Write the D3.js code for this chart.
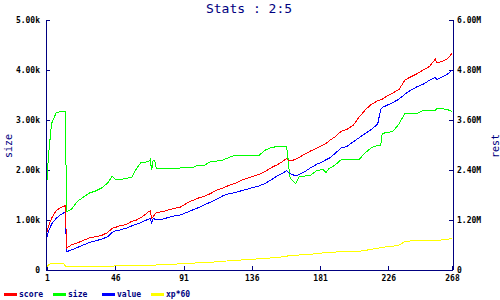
<!DOCTYPE html>
<html>
<head>
<meta charset="utf-8">
<script src="https://cdn.jsdelivr.net/npm/d3@7"></script>
<style>
  body { margin: 0; background: #fff; }
  text { font-family: "DejaVu Sans Mono", monospace; }
</style>
</head>
<body>
<div id="chart"></div>
<script>
// data
let days  = [1, 2, 4, 7, 10, 12, 13, 14, 17, 21, 25, 29, 33, 37, 41, 44, 46, 49, 53, 57, 60, 63, 66, 68, 69, 70, 71, 72, 73, 77, 81, 85, 89, 93, 97, 101, 105, 109, 113, 117, 121, 125, 129, 133, 137, 141, 145, 149, 153, 157, 159, 160, 161, 162, 165, 167, 171, 175, 179, 183, 185, 187, 191, 195, 199, 203, 207, 211, 215, 219, 221, 222, 225, 229, 233, 237, 241, 245, 249, 253, 257, 258, 261, 265, 268];
// size, in thousands (left axis)
let size  = [1.80, 2.30, 2.93, 3.14, 3.17, 3.18, 3.18, 1.17, 1.21, 1.37, 1.46, 1.54, 1.58, 1.64, 1.74, 1.88, 1.82, 1.81, 1.83, 1.86, 2.03, 2.15, 2.16, 2.17, 2.21, 2.00, 2.20, 2.20, 2.03, 2.04, 2.03, 2.03, 2.04, 2.05, 2.05, 2.10, 2.10, 2.17, 2.18, 2.20, 2.25, 2.30, 2.30, 2.30, 2.30, 2.30, 2.40, 2.45, 2.47, 2.47, 2.47, 2.20, 1.87, 1.82, 1.73, 1.86, 1.88, 1.90, 1.99, 2.01, 1.95, 2.03, 2.10, 2.21, 2.22, 2.22, 2.22, 2.35, 2.45, 2.49, 2.49, 2.73, 2.75, 2.77, 2.92, 3.13, 3.13, 3.13, 3.19, 3.19, 3.19, 3.23, 3.23, 3.21, 3.17];
// rest, in millions (right axis)
let score = [0.90, 1.05, 1.24, 1.42, 1.50, 1.53, 1.54, 0.53, 0.60, 0.65, 0.71, 0.77, 0.80, 0.83, 0.90, 1.00, 1.02, 1.06, 1.09, 1.17, 1.20, 1.26, 1.34, 1.40, 1.42, 1.25, 1.28, 1.33, 1.38, 1.40, 1.44, 1.48, 1.51, 1.60, 1.67, 1.73, 1.77, 1.84, 1.92, 1.97, 2.03, 2.08, 2.15, 2.20, 2.25, 2.30, 2.37, 2.46, 2.53, 2.62, 2.68, 2.63, 2.62, 2.62, 2.66, 2.70, 2.78, 2.86, 2.93, 3.00, 3.04, 3.10, 3.20, 3.33, 3.38, 3.48, 3.68, 3.85, 3.98, 4.06, 4.09, 4.10, 4.17, 4.25, 4.33, 4.56, 4.64, 4.71, 4.80, 4.88, 5.06, 4.97, 5.00, 5.07, 5.20];
let value = [0.78, 0.93, 1.10, 1.24, 1.33, 1.37, 1.38, 0.44, 0.48, 0.54, 0.60, 0.66, 0.70, 0.74, 0.80, 0.90, 0.94, 0.96, 1.00, 1.06, 1.10, 1.14, 1.19, 1.22, 1.24, 1.14, 1.24, 1.22, 1.20, 1.22, 1.26, 1.30, 1.32, 1.38, 1.44, 1.50, 1.57, 1.63, 1.70, 1.78, 1.83, 1.86, 1.90, 1.94, 1.98, 2.02, 2.08, 2.17, 2.26, 2.34, 2.38, 2.35, 2.32, 2.30, 2.26, 2.29, 2.36, 2.46, 2.54, 2.60, 2.65, 2.68, 2.80, 2.93, 2.97, 3.08, 3.18, 3.28, 3.38, 3.50, 3.86, 3.90, 3.95, 4.02, 4.10, 4.22, 4.32, 4.40, 4.46, 4.55, 4.62, 4.57, 4.62, 4.70, 4.80];
let xp60  = [0.08, 0.12, 0.16, 0.16, 0.16, 0.16, 0.10, 0.08, 0.08, 0.08, 0.08, 0.08, 0.08, 0.08, 0.08, 0.09, 0.10, 0.10, 0.10, 0.10, 0.11, 0.12, 0.12, 0.12, 0.12, 0.12, 0.12, 0.12, 0.12, 0.13, 0.13, 0.14, 0.15, 0.15, 0.16, 0.18, 0.18, 0.18, 0.20, 0.21, 0.22, 0.23, 0.24, 0.26, 0.26, 0.27, 0.28, 0.29, 0.30, 0.32, 0.33, 0.34, 0.34, 0.34, 0.35, 0.36, 0.37, 0.38, 0.39, 0.41, 0.41, 0.42, 0.43, 0.44, 0.44, 0.44, 0.45, 0.47, 0.50, 0.52, 0.54, 0.54, 0.56, 0.57, 0.60, 0.68, 0.70, 0.70, 0.70, 0.70, 0.72, 0.72, 0.72, 0.74, 0.75];

let xTicks = [1, 46, 91, 136, 181, 226, 268];
let leftTicks = [0, 1, 2, 3, 4, 5];
let rightTicks = [0, 1.2, 2.4, 3.6, 4.8, 6];

let axisColor = "#000080";

let svg = d3.select("#chart").append("svg")
    .attr("width", 500)
    .attr("height", 300);

let x = d3.scaleLinear().domain([1, 268]).range([47, 452]);
let yLeft = d3.scaleLinear().domain([0, 5]).range([270, 20]);
let yRight = d3.scaleLinear().domain([0, 6]).range([270, 20]);

// title
svg.append("text")
    .attr("x", 249).attr("y", 13)
    .attr("text-anchor", "middle")
    .attr("font-size", "13px")
    .attr("fill", axisColor)
    .text("Stats : 2:5");

// axes
function styleAxis(g) {
    g.selectAll(".domain").remove();
    g.selectAll("line").attr("stroke", axisColor).attr("shape-rendering", "crispEdges");
    g.selectAll("text").attr("fill", "#000").attr("font-size", "8px")
        .attr("font-weight", "bold")
        .style("font-family", "'DejaVu Sans Mono', monospace");
}

svg.append("g")
    .attr("transform", "translate(46,0)")
    .call(d3.axisRight(yLeft).tickValues(leftTicks).tickSize(4)
        .tickFormat(d => d === 0 ? "0" : d.toFixed(2) + "k"))
    .call(styleAxis)
    .call(g => g.selectAll("text").attr("x", -6).attr("text-anchor", "end"));

svg.append("g")
    .attr("transform", "translate(453,0)")
    .call(d3.axisLeft(yRight).tickValues(rightTicks).tickSize(4)
        .tickFormat(d => d === 0 ? "0" : d.toFixed(2) + "M"))
    .call(styleAxis)
    .call(g => g.selectAll("text").attr("x", 4).attr("text-anchor", "start"));

svg.append("g")
    .attr("transform", "translate(0,270)")
    .call(d3.axisTop(x).tickValues(xTicks).tickSize(4))
    .call(styleAxis)
    .call(g => g.selectAll("text").attr("y", 11).attr("dy", 0));

// axis lines
let frame = [[46, 20, 46, 270], [453, 20, 453, 270], [46, 270, 453, 270]];
svg.selectAll("line.frame").data(frame).enter().append("line")
    .attr("class", "frame")
    .attr("x1", d => d[0]).attr("y1", d => d[1])
    .attr("x2", d => d[2]).attr("y2", d => d[3])
    .attr("stroke", axisColor)
    .attr("shape-rendering", "crispEdges");

// axis titles
svg.append("text")
    .attr("transform", "translate(12,146) rotate(-90)")
    .attr("text-anchor", "middle")
    .attr("font-size", "10px")
    .attr("fill", axisColor)
    .text("size");

svg.append("text")
    .attr("transform", "translate(499,146) rotate(-90)")
    .attr("text-anchor", "middle")
    .attr("font-size", "10px")
    .attr("fill", axisColor)
    .text("rest");

// series
let series = [
    { name: "xp*60", values: xp60, scale: yRight, color: "#ffff00" },
    { name: "size", values: size, scale: yLeft, color: "#00ff00" },
    { name: "value", values: value, scale: yRight, color: "#0000ff" },
    { name: "score", values: score, scale: yRight, color: "#ff0000" }
];

series.forEach(function (s) {
    let line = d3.line()
        .x((d, i) => x(days[i]))
        .y(d => s.scale(d));
    svg.append("path")
        .datum(s.values)
        .attr("d", line)
        .attr("fill", "none")
        .attr("stroke", s.color)
        .attr("stroke-width", 1)
        .attr("shape-rendering", "crispEdges");
});

// legend
let legend = [
    { name: "score", color: "#ff0000", x: 4 },
    { name: "size", color: "#00ff00", x: 53 },
    { name: "value", color: "#0000ff", x: 102 },
    { name: "xp*60", color: "#ffff00", x: 151 }
];

let lg = svg.selectAll("g.legend").data(legend).enter().append("g")
    .attr("class", "legend");
lg.append("rect")
    .attr("x", d => d.x).attr("y", 293)
    .attr("width", 13).attr("height", 3)
    .attr("fill", d => d.color);
lg.append("text")
    .attr("x", d => d.x + 15).attr("y", 297)
    .attr("font-size", "8px")
    .attr("font-weight", "bold")
    .attr("fill", axisColor)
    .text(d => d.name);
</script>
</body>
</html>
